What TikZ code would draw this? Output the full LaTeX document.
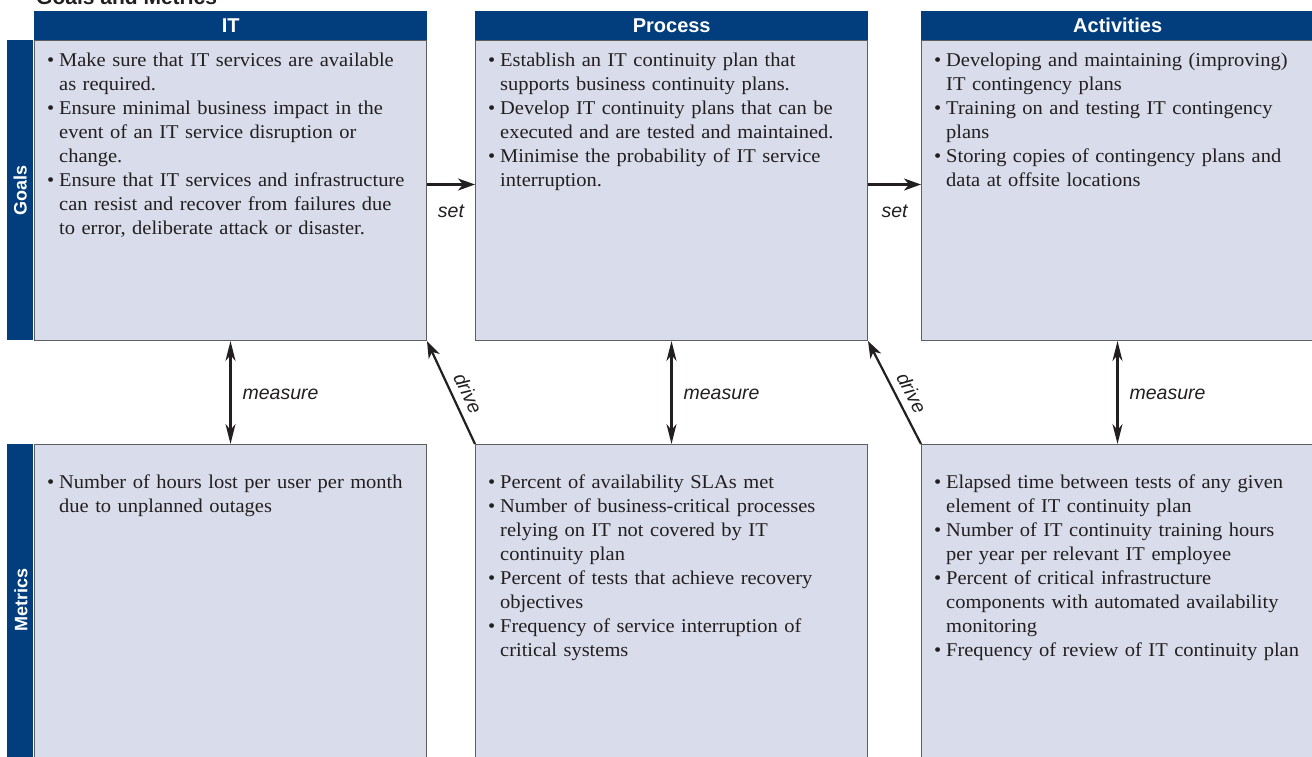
\documentclass[tikz,border=0pt]{standalone}
\usepackage{fontspec}
\setmainfont{Liberation Serif}[FakeStretch=1.05]
\setsansfont{Liberation Sans}
\usepackage{xcolor}
\usepackage{tikz}
\usetikzlibrary{arrows.meta,positioning}
\definecolor{hdrc}{HTML}{023E7D}
\definecolor{boxbg}{HTML}{D9DCEA}
\definecolor{edgec}{HTML}{5E5E5E}
\definecolor{inkc}{HTML}{231F20}
\newcommand{\txtsz}{\fontsize{19.5}{24}\selectfont}
\newcommand{\bul}[1]{\par\noindent\hangindent=12pt\hangafter=1\makebox[12pt][l]{\textbullet}#1\par}
\tikzset{
  ar/.style={-{Stealth[length=17pt,width=12pt,inset=5pt]},line width=2.2pt,inkc},
  dar/.style={{Stealth[length=20pt,width=10pt,inset=6pt]}-{Stealth[length=20pt,width=10pt,inset=6pt]},line width=2.2pt,inkc},
  box/.style={draw=edgec,line width=1pt,fill=boxbg,anchor=north west,minimum width=392pt,inner sep=0pt},
  hdr/.style={fill=hdrc,text=white,anchor=south west,minimum width=393pt,minimum height=29pt,inner sep=0pt,font=\sffamily\bfseries\fontsize{20}{22}\selectfont},
  sidebar/.style={fill=hdrc,anchor=north east,minimum width=26pt,inner sep=0pt},
  sidelab/.style={rotate=90,text=white,inner sep=0pt,font=\sffamily\bfseries\fontsize{18}{20}\selectfont},
  txt/.style={anchor=north west,text width=385pt,inner sep=0pt,text=inkc,font=\txtsz},
  lbl/.style={inner sep=0pt,text=inkc,font=\sffamily\itshape\fontsize{19.5}{22}\selectfont}
}

\begin{document}
\begin{tikzpicture}[x=1pt,y=-1pt]
\useasboundingbox[fill=white] (0,0) rectangle (1312,756);
\node[anchor=base west,inner sep=0pt,text=inkc,font=\sffamily\bfseries\fontsize{21}{24}\selectfont] (ttl) at (36,4) {Goals and Metrics};

\node[box,minimum height=300pt] (itg) at (34,40) {};
\node[box,minimum height=300pt] (prg) at (475,40) {};
\node[box,minimum height=300pt] (acg) at (921,40) {};
\node[box,minimum height=330pt] (itm) at (34,444) {};
\node[box,minimum height=330pt] (prm) at (475,444) {};
\node[box,minimum height=330pt] (acm) at (921,444) {};

\node[hdr] (ith) at (itg.north west) {IT};
\node[hdr] (prh) at (prg.north west) {Process};
\node[hdr] (ach) at (acg.north west) {Activities};

\node[sidebar,minimum height=300pt] (gbar) at ([xshift=-0.5pt]itg.north west) {};
\node[sidebar,minimum height=330pt] (mbar) at ([xshift=-0.5pt]itm.north west) {};
\node[sidelab] (glab) at (gbar.center) {Goals};
\node[sidelab] (mlab) at (21,600) {Metrics};

\node[txt] (itgt) at ([xshift=13pt,yshift=-2pt]itg.north west) {%
\bul{Make sure that IT services are available\newline as required.}
\bul{Ensure minimal business impact in the\newline event of an IT service disruption or\newline change.}
\bul{Ensure that IT services and infrastructure\newline can resist and recover from failures due\newline to error, deliberate attack or disaster.}};
\node[txt] (prgt) at ([xshift=13pt,yshift=-2pt]prg.north west) {%
\bul{Establish an IT continuity plan that\newline supports business continuity plans.}
\bul{Develop IT continuity plans that can be\newline executed and are tested and maintained.}
\bul{Minimise the probability of IT service\newline interruption.}};
\node[txt] (acgt) at ([xshift=13pt,yshift=-2pt]acg.north west) {%
\bul{Developing and maintaining (improving)\newline IT contingency plans}
\bul{Training on and testing IT contingency\newline plans}
\bul{Storing copies of contingency plans and\newline data at offsite locations}};

\node[txt] (itmt) at ([xshift=13pt,yshift=-20pt]itm.north west) {%
\bul{Number of hours lost per user per month\newline due to unplanned outages}};
\node[txt] (prmt) at ([xshift=13pt,yshift=-20pt]prm.north west) {%
\bul{Percent of availability SLAs met}
\bul{Number of business-critical processes\newline relying on IT not covered by IT\newline continuity plan}
\bul{Percent of tests that achieve recovery\newline objectives}
\bul{Frequency of service interruption of\newline critical systems}};
\node[txt] (acmt) at ([xshift=13pt,yshift=-20pt]acm.north west) {%
\bul{Elapsed time between tests of any given\newline element of IT continuity plan}
\bul{Number of IT continuity training hours\newline per year per relevant IT employee}
\bul{Percent of critical infrastructure\newline components with automated availability\newline monitoring}
\bul{Frequency of review of IT continuity plan}};

\draw[ar] ([yshift=6pt]itg.east) -- ([yshift=6pt]prg.west) node[midway,below=19pt,lbl] (set1) {set};
\draw[ar] ([yshift=6pt]prg.east) -- ([yshift=6pt]acg.west) node[midway,below=19pt,lbl] (set2) {set};

\draw[dar] (itg.south) -- (itm.north) node[pos=0.52,right=11pt,lbl] (ms1) {measure};
\draw[dar] (prg.south) -- (prm.north) node[pos=0.52,right=11pt,lbl] (ms2) {measure};
\draw[dar] (acg.south) -- (acm.north) node[pos=0.52,right=11pt,lbl] (ms3) {measure};

\draw[ar] (prm.north west) -- (itg.south east) node[pos=0.43,sloped,above=7pt,lbl] (dr1) {drive};
\draw[ar] (acm.north west) -- (prg.south east) node[pos=0.43,sloped,above=7pt,lbl] (dr2) {drive};
\end{tikzpicture}
\end{document}
